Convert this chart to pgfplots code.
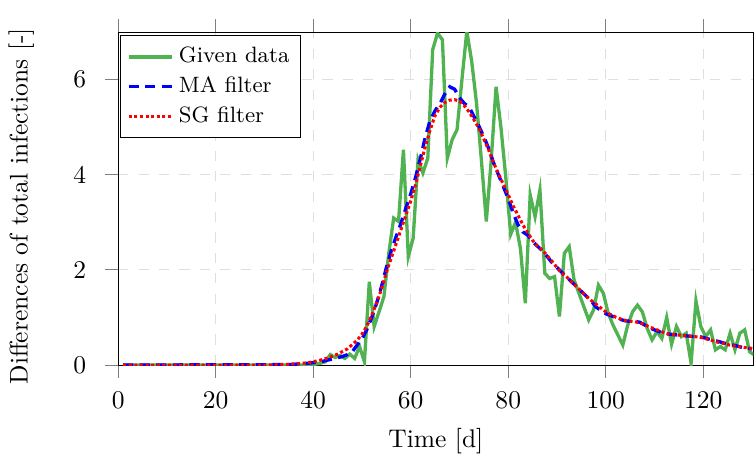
\documentclass[border=0pt]{standalone}
\usepackage{pgfplots}
\pgfplotsset{compat=1.18}
\definecolor{dgreen}{RGB}{80,178,80}
\begin{document}
\begin{tikzpicture}
\begin{axis}[
  scale only axis,
  width=249pt, height=130.5pt,
  xmin=0, xmax=130.3, ymin=0, ymax=7,
  xtick={0,20,40,60,80,100,120},
  ytick={0,2,4,6},
  tick align=outside,
  major tick length=5pt,
  xtick pos=both, ytick pos=left,
  tick style={gray, thin},
  xticklabel style={yshift=-2pt},
  yticklabel style={xshift=-4pt},
  grid=major,
  major grid style={dash pattern=on 4pt off 4pt, gray!25, thin},
  xlabel={Time [d]},
  ylabel={Differences of total infections [-]},
  xlabel style={yshift=-1pt},
  ylabel style={yshift=8.6pt, xshift=-3pt},
  legend style={at={(0.003,0.991)}, anchor=north west, font=\fontsize{8.7pt}{10pt}\selectfont, draw=black, inner sep=2.5pt, row sep=0pt},
  legend cell align=left,
]
\addplot[dgreen, line width=1.3pt] coordinates {
(1,0) (39.5,0) (40.5,0.02) (41.5,0.04) (42.5,0.07) (43.5,0.22) (44.5,0.16) (45.5,0.2) (46.5,0.14) (47.5,0.23) (48.5,0.14) (49.5,0.39)
(50.5,0.07) (51.5,1.75) (52.5,0.81) (53.5,1.12) (54.5,1.44) (55.5,2.35) (56.5,3.09) (57.5,3.02) (58.5,4.53) (59.5,2.28)
(60.5,2.67) (61.5,4.32) (62.5,4.04) (63.5,4.35) (64.5,6.63) (65.5,6.98) (66.5,6.84) (67.5,4.35) (68.5,4.74) (69.5,4.95)
(70.5,6.0) (71.5,7.02) (72.5,6.39) (73.5,5.5) (74.5,4.3) (75.5,3.02) (76.5,4.3) (77.5,5.85) (78.5,5.0) (79.5,3.94)
(80.5,2.75) (81.5,3.0) (82.5,2.45) (83.5,1.30) (84.5,3.58) (85.5,3.12) (86.5,3.68) (87.5,1.93) (88.5,1.82) (89.5,1.86)
(90.5,1.02) (91.5,2.35) (92.5,2.49) (93.5,1.79) (94.5,1.51) (95.5,1.23) (96.5,0.95) (97.5,1.16) (98.5,1.68) (99.5,1.51)
(100.5,1.09) (101.5,0.84) (102.5,0.63) (103.5,0.42) (104.5,0.84) (105.5,1.12) (106.5,1.26) (107.5,1.12) (108.5,0.77) (109.5,0.53)
(110.5,0.70) (111.5,0.56) (112.5,1.0) (113.5,0.44) (114.5,0.81) (115.5,0.6) (116.5,0.67) (117.5,0.04) (118.5,1.35) (119.5,0.81)
(120.5,0.6) (121.5,0.74) (122.5,0.32) (123.5,0.39) (124.5,0.32) (125.5,0.67) (126.5,0.32) (127.5,0.67) (128.5,0.74) (129.5,0.28) (130.5,0.21)
};
\addlegendentry{Given data}
\addplot[blue, line width=1.3pt, dash pattern=on 4pt off 2.5pt] coordinates {
(1,0) (35,0.01) (38,0.03) (40,0.05) (42,0.08) (44,0.13) (46,0.18) (47,0.22) (48,0.28) (49,0.42)
(50,0.55) (51,0.75) (52,1.0) (53,1.3) (54,1.65) (55,2.05) (56,2.4) (57,2.7) (58,2.98) (59,3.3)
(60,3.6) (61,3.95) (62,4.35) (63,4.8) (64,5.15) (65,5.35) (66,5.5) (67,5.7) (68,5.85) (69,5.8)
(70,5.62) (71,5.5) (72,5.42) (73,5.22) (74,5.02) (75,4.8) (76,4.55) (77,4.25) (78,4.0) (79,3.75)
(80,3.5) (81,3.2) (82,2.95) (83,2.8) (84,2.73) (85,2.6) (86,2.5) (87,2.4) (88,2.28) (89,2.15)
(90,2.05) (91,1.95) (92,1.85) (93,1.75) (94,1.65) (95,1.55) (96,1.45) (97,1.35) (98,1.22) (99,1.15)
(100,1.08) (101,1.04) (102,1.0) (103,0.96) (104,0.93) (105,0.92) (106,0.92) (107,0.9) (108,0.84) (109,0.78)
(110,0.74) (111,0.7) (112,0.67) (113,0.65) (114,0.64) (115,0.63) (116,0.62) (117,0.61) (118,0.6) (119,0.6)
(120,0.58) (121,0.55) (122,0.52) (123,0.5) (124,0.47) (125,0.44) (126,0.42) (127,0.4) (128,0.37) (129,0.36) (130,0.34)
};
\addlegendentry{MA filter}
\addplot[red, line width=1.2pt, dash pattern=on 1.2pt off 1pt] coordinates {
(1,0) (20,0) (30,0) (34,0.01) (37,0.03) (39,0.05) (41,0.09) (43,0.15) (45,0.23) (47,0.34) (49,0.52)
(50,0.65) (51,0.82) (52,1.05) (53,1.3) (54,1.6) (55,1.95) (56,2.25) (57,2.55) (58,2.85) (59,3.15)
(60,3.45) (61,3.8) (62,4.2) (63,4.6) (64,4.95) (65,5.25) (66,5.42) (67,5.52) (68,5.57) (69,5.58)
(70,5.55) (71,5.45) (72,5.32) (73,5.15) (74,4.98) (75,4.75) (76,4.52) (77,4.25) (78,4.02) (79,3.8)
(80,3.58) (81,3.35) (82,3.15) (83,2.95) (84,2.78) (85,2.62) (86,2.5) (87,2.42) (88,2.3) (89,2.18)
(90,2.05) (91,1.93) (92,1.85) (93,1.75) (94,1.65) (95,1.55) (96,1.45) (97,1.36) (98,1.28) (99,1.2)
(100,1.12) (101,1.06) (102,1.01) (103,0.97) (104,0.94) (105,0.92) (106,0.91) (107,0.89) (108,0.85) (109,0.8)
(110,0.76) (111,0.72) (112,0.68) (113,0.65) (114,0.64) (115,0.63) (116,0.62) (117,0.61) (118,0.6) (119,0.59)
(120,0.57) (121,0.54) (122,0.51) (123,0.48) (124,0.46) (125,0.43) (126,0.41) (127,0.39) (128,0.38) (129,0.36) (130,0.35)
};
\addlegendentry{SG filter}
\end{axis}
\path ([yshift=12.6pt]current axis.north);
\end{tikzpicture}
\end{document}
